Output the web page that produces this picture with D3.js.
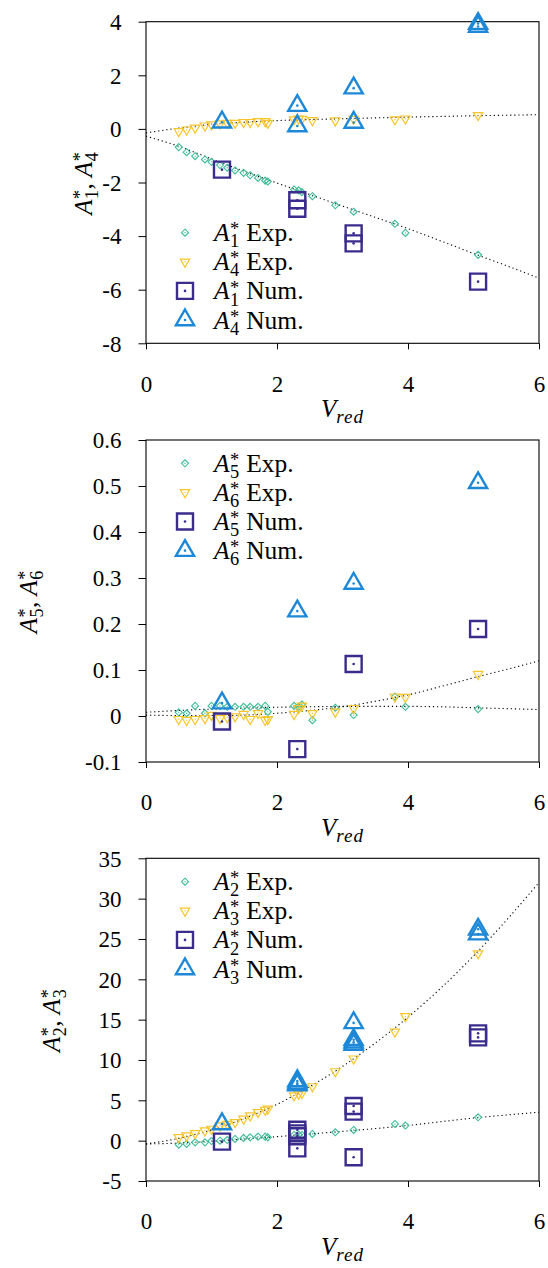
<!DOCTYPE html>
<html><head><meta charset="utf-8">
<script src="https://cdn.jsdelivr.net/npm/d3@7"></script>
<style>
html,body{margin:0;padding:0;background:#fff;}
svg{display:block;font-family:"Liberation Serif","Times New Roman",serif;}
</style></head>
<body>
<svg id="chart" width="548" height="1268"></svg>
<script>
// ---------------- data ----------------
const X_TICKS = [0, 2, 4, 6];
const Y1_TICKS = [-8, -6, -4, -2, 0, 2, 4];
const Y2_TICKS = [-0.1, 0, 0.1, 0.2, 0.3, 0.4, 0.5, 0.6];
const Y3_TICKS = [-5, 0, 5, 10, 15, 20, 25, 30, 35];

const V_EXP = [0.50,0.62,0.75,0.90,1.00,1.13,1.24,1.36,1.49,1.59,1.71,1.82,1.86,2.26,2.33,2.38,2.54,2.89,3.17,3.80,3.96,5.07];
const A1_EXP = [-0.68,-0.87,-1.02,-1.14,-1.23,-1.35,-1.45,-1.55,-1.64,-1.73,-1.83,-1.93,-1.96,-2.26,-2.29,-2.36,-2.51,-2.85,-3.09,-3.54,-3.88,-4.70];
const A4_EXP = [-0.09,-0.03,0.04,0.12,0.16,0.20,0.22,0.22,0.25,0.25,0.28,0.28,0.22,0.35,0.38,0.37,0.32,0.31,0.37,0.35,0.38,0.51];
const A5_EXP = [0.008,0.006,0.022,0.006,0.022,0.022,0.020,0.020,0.020,0.020,0.020,0.022,0.009,0.022,0.020,0.025,-0.009,0.018,0.002,0.042,0.020,0.015];
const A6_EXP = [-0.007,-0.009,-0.007,-0.005,0.002,-0.005,-0.003,-0.001,0.004,-0.007,0.006,-0.009,-0.007,0.004,0.017,0.022,0.006,0.009,0.017,0.042,0.041,0.091];
const A2_EXP = [-0.50,-0.41,-0.21,-0.21,-0.05,0.00,0.08,0.21,0.33,0.41,0.50,0.50,0.41,0.71,0.75,0.71,0.83,1.04,1.33,2.07,1.87,2.90];
const A3_EXP = [0.41,0.62,0.91,1.24,1.45,1.87,2.05,2.28,2.70,3.11,3.52,3.81,3.94,5.60,5.80,5.89,6.72,8.58,10.16,13.50,15.40,23.20];

const A1_NUM_V = [1.16,2.31,2.31,3.17,3.17,5.07];
const A1_NUM   = [-1.52,-2.66,-2.98,-3.90,-4.27,-5.70];
const A4_NUM_V = [1.16,2.31,2.31,3.17,3.17,5.07,5.07];
const A4_NUM   = [0.25,0.87,0.11,1.52,0.24,3.93,3.82];
const A5_NUM_V = [1.16,2.31,3.17,5.07];
const A5_NUM   = [-0.012,-0.072,0.113,0.189];
const A6_NUM_V = [1.16,2.31,3.17,5.07];
const A6_NUM   = [0.028,0.228,0.288,0.507];
const A2_NUM_V = [1.16,2.31,2.31,2.31,2.31,3.17,3.17,3.17,5.07,5.07];
const A2_NUM   = [-0.12,1.35,0.90,0.55,-0.95,4.30,3.60,-2.05,13.3,12.8];
const A3_NUM_V = [1.16,2.31,2.31,2.31,3.17,3.17,3.17,3.17,5.07,5.07];
const A3_NUM   = [2.07,7.40,7.10,6.90,14.6,12.5,12.2,11.9,26.2,25.6];

const FIT_V  = [0,0.5,1,1.5,2,2.5,3,3.5,4,4.5,5,5.5,6];
const A1_FIT = [-0.27,-0.65,-1.12,-1.58,-2.02,-2.45,-2.88,-3.30,-3.72,-4.18,-4.65,-5.10,-5.57];
const A4_FIT = [-0.15,0.03,0.17,0.25,0.31,0.35,0.38,0.41,0.44,0.465,0.49,0.51,0.53];
const A5_FIT = [0.008,0.012,0.015,0.017,0.019,0.020,0.021,0.021,0.021,0.020,0.018,0.016,0.014];
const A6_FIT = [0.002,0.001,0.001,0.002,0.006,0.012,0.020,0.032,0.046,0.064,0.083,0.101,0.120];
const A2_FIT = [-0.41,-0.30,-0.08,0.20,0.50,0.82,1.15,1.50,1.88,2.35,2.80,3.18,3.52];
const A3_FIT = [-0.40,0.28,1.33,2.75,4.50,6.70,9.20,12.1,15.3,18.9,22.9,27.3,32.0];

// ---------------- styling / layout ----------------
const COL = {teal:"#3dbb97", yellow:"#f8c52a", purple:"#3a2c8c", blue:"#1e88d8"};
const FS_TICK = 23, FS_LEG = 25.5, FS_LAB = 25;
const PLOT_L = 146, PLOT_R = 539;

const panels = [
  {top:21.7, bottom:343.3, domain:[-8,4], ticks:Y1_TICKS, fmt:d=>String(d),
   idA:"1", idB:"4", expA:A1_EXP, expB:A4_EXP, numAV:A1_NUM_V, numA:A1_NUM, numBV:A4_NUM_V, numB:A4_NUM,
   fitA:A1_FIT, fitB:A4_FIT, legendY:232.7, ylabX:92},
  {top:440, bottom:762, domain:[-0.1,0.6], ticks:Y2_TICKS, fmt:d=>(Math.abs(d)<1e-9?"0":d.toFixed(1)),
   idA:"5", idB:"6", expA:A5_EXP, expB:A6_EXP, numAV:A5_NUM_V, numA:A5_NUM, numBV:A6_NUM_V, numB:A6_NUM,
   fitA:A5_FIT, fitB:A6_FIT, legendY:463.3, ylabX:37},
  {top:858.3, bottom:1181, domain:[-5,35], ticks:Y3_TICKS, fmt:d=>String(d),
   idA:"2", idB:"3", expA:A2_EXP, expB:A3_EXP, numAV:A2_NUM_V, numA:A2_NUM, numBV:A3_NUM_V, numB:A3_NUM,
   fitA:A2_FIT, fitB:A3_FIT, legendY:881.7, ylabX:60}
];

const svg = d3.select("#chart");

// rich text: tokens {t, it} or {sup, sub}
function rich(textSel, tokens, fs, subScale) {
  let pendingDy = 0, pendingDx = 0;
  const supShift = 0.23*fs, subShift = 0.24*fs, sfs = (subScale||0.72)*fs;
  tokens.forEach(tok => {
    if (tok.t !== undefined) {
      textSel.append("tspan").attr("font-style", tok.it ? "italic" : "normal")
        .attr("font-size", fs).attr("dy", pendingDy).attr("dx", pendingDx).text(tok.t);
      pendingDy = 0; pendingDx = 0;
    } else {
      let w1 = 0;
      if (tok.sup !== undefined) {
        const s = textSel.append("tspan").attr("font-size", sfs).attr("font-style","normal")
          .attr("dy", pendingDy - supShift).attr("dx", pendingDx + 0.5).text(tok.sup);
        w1 = s.node().getComputedTextLength() + 0.5;
        pendingDy = supShift; pendingDx = 0;
      }
      const b = textSel.append("tspan").attr("font-size", sfs).attr("font-style", tok.subIt ? "italic" : "normal")
        .attr("letter-spacing", tok.ls || 0)
        .attr("dy", pendingDy + subShift).attr("dx", pendingDx - w1 + (tok.sup!==undefined?0.5:0)).text(tok.sub);
      const w2 = b.node().getComputedTextLength();
      pendingDy = -subShift;
      pendingDx = Math.max(0, w1 - w2);
    }
  });
}

function markerPath(type) {
  if (type === "diamond") { const r = 3.5; return `M0,${-r}L${r},0L0,${r}L${-r},0Z`; }
  if (type === "tridown") { const R = 5.4; const h = R*Math.sqrt(3)/2;
    return `M${-h},${-R/2}L${h},${-R/2}L0,${R}Z`; }
  if (type === "square") { const s = 8; return `M${-s},${-s}H${s}V${s}H${-s}Z`; }
  if (type === "triup") { const R = 10.5; const h = R*Math.sqrt(3)/2;
    return `M0,${-R}L${h},${R/2}L${-h},${R/2}Z`; }
}
const MSTYLE = {
  diamond:{col:COL.teal, sw:1.1, dot:0.7},
  tridown:{col:COL.yellow, sw:1.2, dot:0.7},
  square:{col:COL.purple, sw:2.4, dot:1.3},
  triup:{col:COL.blue, sw:2.4, dot:1.3}
};
function drawMarkers(g, xs, ys, x, y, type) {
  const st = MSTYLE[type];
  const pts = xs.map((v,i)=>({v, a:ys[i]}));
  const m = g.append("g").selectAll("g").data(pts).join("g")
    .attr("transform", d=>`translate(${x(d.v)},${y(d.a)})`);
  m.append("path").attr("d", markerPath(type)).attr("fill","none")
    .attr("stroke", st.col).attr("stroke-width", st.sw).attr("stroke-linejoin","miter");
  m.append("circle").attr("r", st.dot).attr("fill", st.col);
}
function legendMarker(g, cx, cy, type) {
  const st = MSTYLE[type];
  const m = g.append("g").attr("transform", `translate(${cx},${cy})`);
  m.append("path").attr("d", markerPath(type)).attr("fill","none")
    .attr("stroke", st.col).attr("stroke-width", st.sw);
  m.append("circle").attr("r", st.dot).attr("fill", st.col);
}

const x = d3.scaleLinear().domain([0,6]).range([PLOT_L, PLOT_R]);

panels.forEach((p, pi) => {
  const y = d3.scaleLinear().domain(p.domain).range([p.bottom, p.top]);
  const g = svg.append("g");
  const clipId = "clip"+pi;
  svg.append("clipPath").attr("id", clipId).append("rect")
    .attr("x", PLOT_L).attr("y", p.top).attr("width", PLOT_R-PLOT_L).attr("height", p.bottom-p.top);

  // axes
  const yAxis = d3.axisLeft(y).tickValues(p.ticks).tickFormat(p.fmt).tickSizeInner(7.5).tickSizeOuter(0).tickPadding(17);
  const ya = g.append("g").attr("transform", `translate(${PLOT_L},0)`).call(yAxis);
  const xAxis = d3.axisBottom(x).tickValues(X_TICKS).tickFormat(d3.format("d")).tickSizeInner(6).tickSizeOuter(0).tickPadding(26);
  const xa = g.append("g").attr("transform", `translate(0,${p.bottom})`).call(xAxis);
  [ya, xa].forEach(a => {
    a.select(".domain").remove();
    a.selectAll("line").attr("stroke","#000").attr("stroke-width",1);
    a.selectAll("text").attr("font-family","Liberation Serif, serif").attr("font-size",FS_TICK).attr("fill","#000");
  });
  ya.selectAll("text").attr("dy","0.34em");
  xa.selectAll("text").attr("dy","0.71em");

  // fits
  const line = d3.line().x((d,i)=>x(FIT_V[i])).y(d=>y(d)).curve(d3.curveMonotoneX);
  [p.fitA, p.fitB].forEach(f => {
    g.append("path").attr("clip-path", `url(#${clipId})`).attr("d", line(f))
      .attr("fill","none").attr("stroke","#000").attr("stroke-width",1.1)
      .attr("stroke-dasharray","1.2,2.9");
  });

  // frame
  g.append("rect").attr("x", PLOT_L).attr("y", p.top).attr("width", PLOT_R-PLOT_L).attr("height", p.bottom-p.top)
    .attr("fill","none").attr("stroke","#000").attr("stroke-width",1.1);

  // data
  drawMarkers(g, V_EXP, p.expA, x, y, "diamond");
  drawMarkers(g, V_EXP, p.expB, x, y, "tridown");
  drawMarkers(g, p.numAV, p.numA, x, y, "square");
  drawMarkers(g, p.numBV, p.numB, x, y, "triup");

  // legend
  const leg = [
    {type:"diamond", id:p.idA, lab:"Exp."},
    {type:"tridown", id:p.idB, lab:"Exp."},
    {type:"square",  id:p.idA, lab:"Num."},
    {type:"triup",   id:p.idB, lab:"Num."}
  ];
  const lg = g.append("g");
  leg.forEach((e, i) => {
    const cy = p.legendY + i*29.1;
    legendMarker(lg, 185, cy, e.type);
    const t = lg.append("text").attr("x", 214).attr("y", cy + 8.5).attr("fill","#000");
    rich(t, [{t:"A", it:true}, {sup:"*", sub:e.id}, {t:"\u00a0"+e.lab}], FS_LEG);
  });

  // x label
  const xl = g.append("text").attr("y", p.bottom + 74).attr("fill","#000");
  rich(xl, [{t:"V", it:true}, {sub:"red", subIt:true, ls:1}], FS_LAB, 0.76);
  const xb = xl.node().getBBox();
  xl.attr("x", (PLOT_L+PLOT_R)/2 - xb.width/2);

  // y label
  const yl = g.append("text").attr("transform", `translate(${p.ylabX},${(p.top+p.bottom)/2}) rotate(-90)`)
    .attr("fill","#000");
  rich(yl, [{t:"A", it:true}, {sup:"*", sub:p.idA}, {t:", "}, {t:"A", it:true}, {sup:"*", sub:p.idB}], FS_LAB);
  const bb = yl.node().getBBox();
  yl.attr("transform", `translate(${p.ylabX},${(p.top+p.bottom)/2 + bb.width/2}) rotate(-90)`);
});
</script>
</body></html>
